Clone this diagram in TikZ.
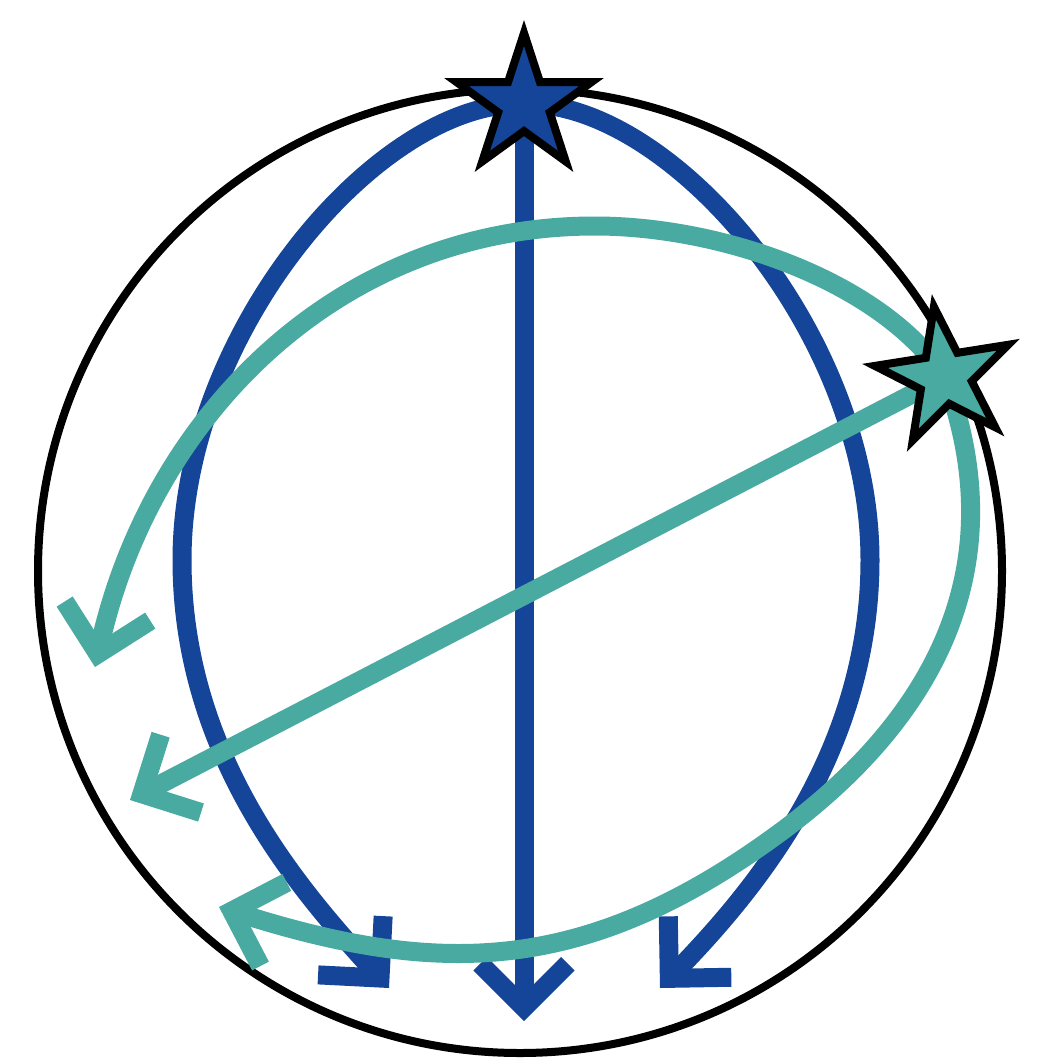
\documentclass[tikz,border=0pt]{standalone}
\usetikzlibrary{arrows.meta,shapes.geometric}
\pgfdeclarelayer{bg}
\pgfsetlayers{bg,main}
\definecolor{sblue}{RGB}{21,69,152}
\definecolor{steal}{RGB}{72,170,160}
\tikzset{
  spath/.style={line width=19pt, -{Straight Barb[angle=90:62pt, sharp]}},
  bluepath/.style={spath, draw=sblue},
  tealpath/.style={spath, draw=steal},
  starnode/.style={star, star points=5, star point ratio=2.618, minimum size=142pt, inner sep=0pt, draw=black, line width=8pt},
}
\begin{document}
\begin{tikzpicture}[x=1pt,y=-1pt]
\useasboundingbox (0,0) rectangle (1054,1060);
\node[starnode, fill=sblue] (bs) at (524,104) {};
\node[starnode, fill=steal, rotate=9] (ts) at (945,377) {};
\coordinate (bm) at (524,1021);
\coordinate (bl) at (389,988);
\coordinate (br) at (660,988);
\coordinate (tl) at (130,800);
\coordinate (tu) at (95,667);
\coordinate (tb) at (219,907);
\coordinate (bwl) at (182,560);
\coordinate (bwr) at (870,560);
\coordinate (tap) at (595,226);
\coordinate (tlo) at (778,834);
\begin{pgfonlayer}{bg}
\draw[line width=8pt] (520,571) circle[radius=482];
\draw[bluepath] (bs.center) -- (bm);
\draw[bluepath] (bs.center) .. controls (380,100) and (182,330) .. (bwl)
  .. controls (182,760) and (305,895) .. (bl);
\draw[bluepath] (bs.center) .. controls (668,100) and (870,330) .. (bwr)
  .. controls (870,760) and (745,900) .. (br);
\draw[tealpath] (ts.center) -- (tl);
\draw[tealpath] (ts.center) .. controls (880,280) and (720,226) .. (tap)
  .. controls (335,226) and (150,420) .. (tu);
\draw[tealpath] (ts.center) .. controls (1020,580) and (920,730) .. (tlo)
  .. controls (584,976) and (438,976) .. (tb);
\end{pgfonlayer}
\end{tikzpicture}
\end{document}
